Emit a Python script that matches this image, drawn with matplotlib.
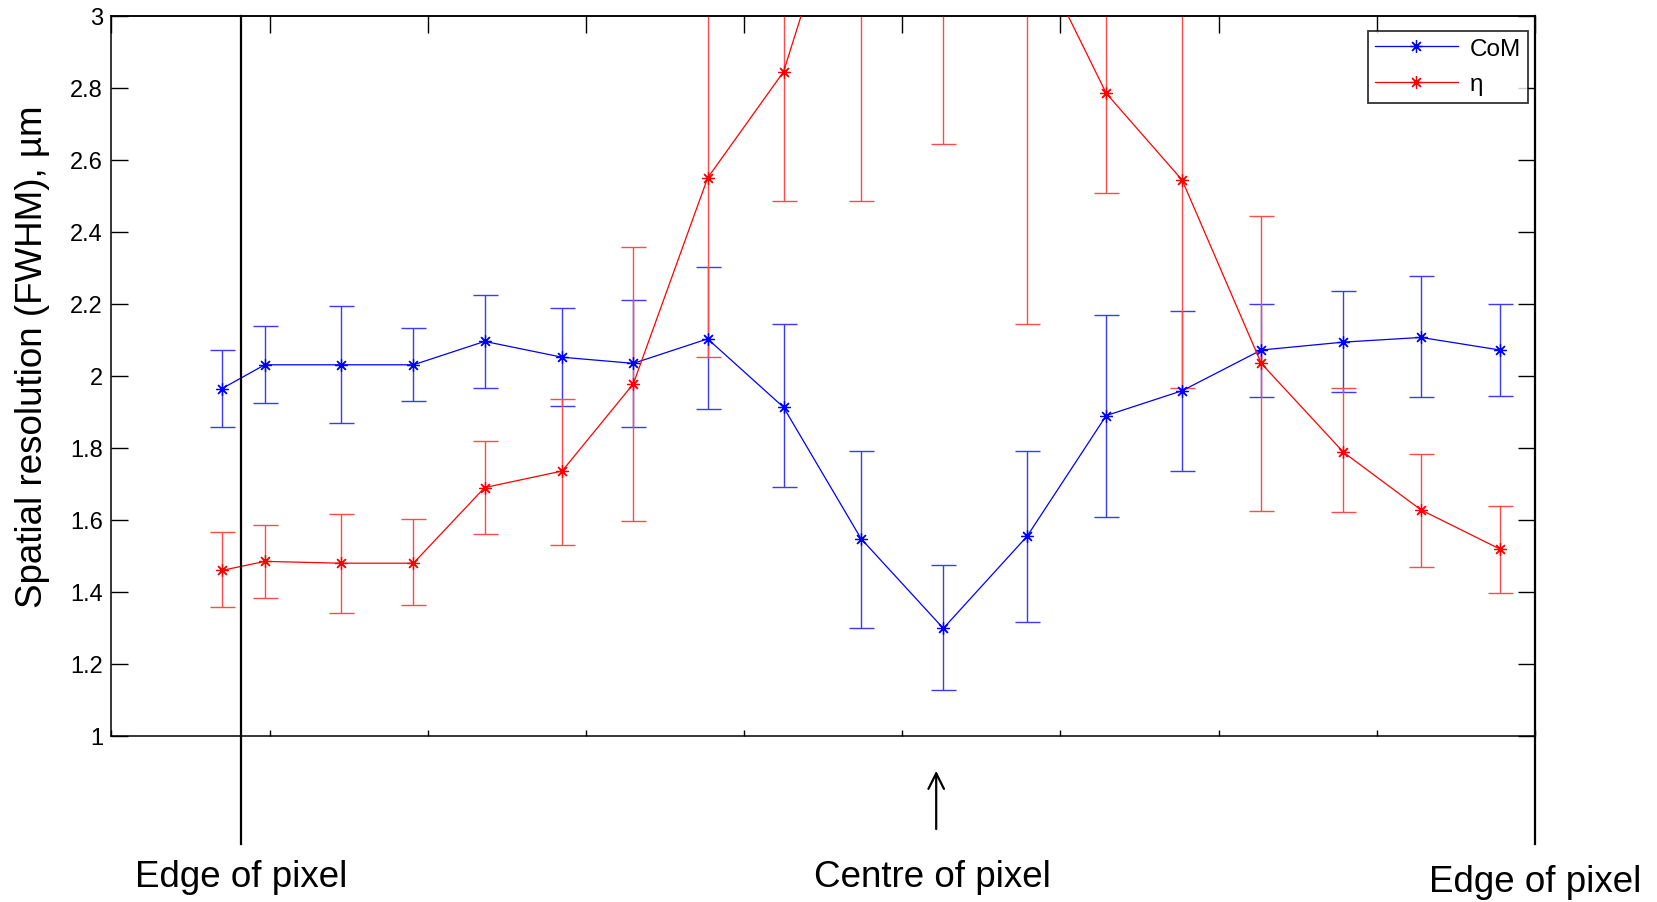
import numpy as np
import matplotlib
matplotlib.use('Agg')
import matplotlib.pyplot as plt
from matplotlib.ticker import FormatStrFormatter, MultipleLocator

plt.rcParams['font.family'] = ['Liberation Sans', 'DejaVu Sans']

# x position across the pixel (axis units)
x_pos = [0.70, 0.97, 1.45, 1.91, 2.36, 2.85, 3.30, 3.77, 4.25,
         4.74, 5.26, 5.79, 6.29, 6.77, 7.27, 7.79, 8.28, 8.78]

# CoM: value, lower and upper end of error bar
com_val = [1.964, 2.030, 2.030, 2.030, 2.095, 2.051, 2.034, 2.102, 1.912,
           1.547, 1.298, 1.554, 1.889, 1.958, 2.071, 2.093, 2.106, 2.071]
com_lo = [1.858, 1.924, 1.868, 1.930, 1.965, 1.915, 1.857, 1.908, 1.690,
          1.300, 1.126, 1.315, 1.607, 1.735, 1.940, 1.954, 1.940, 1.944]
com_hi = [2.071, 2.137, 2.193, 2.132, 2.223, 2.189, 2.209, 2.302, 2.143,
          1.791, 1.473, 1.791, 2.169, 2.179, 2.200, 2.235, 2.276, 2.200]

# eta
eta_val = [1.459, 1.484, 1.479, 1.479, 1.689, 1.735, 1.977, 2.549, 2.844,
           3.53, 3.70, 3.23, 2.784, 2.543, 2.034, 1.787, 1.627, 1.518]
eta_lo = [1.357, 1.382, 1.341, 1.362, 1.561, 1.530, 1.597, 2.051, 2.484,
          2.484, 2.643, 2.143, 2.506, 1.965, 1.623, 1.622, 1.469, 1.396]
eta_hi = [1.565, 1.586, 1.617, 1.601, 1.817, 1.935, 2.357, 3.05, 3.20,
          4.60, 4.80, 4.30, 3.06, 3.12, 2.444, 1.965, 1.781, 1.637]

y_ticks = [1, 1.2, 1.4, 1.6, 1.8, 2, 2.2, 2.4, 2.6, 2.8, 3]

edge_left = 0.82
edge_right = 9.0
centre = 5.215

fig = plt.figure(figsize=(16.57, 9.03), dpi=100)
ax = fig.add_axes([0.0672, 0.1842, 0.8591, 0.7975])

ast = (8, 2, 0)

def draw(xv, val, lo, hi, col, ecol, lab):
    val = np.array(val)
    yerr = [val - np.array(lo), np.array(hi) - val]
    ax.errorbar(xv, val, yerr=yerr, fmt='none', ecolor=ecol, elinewidth=1.0,
                capsize=9, capthick=1.0, zorder=2)
    ax.plot(xv, val, color=col, lw=0.9, marker=ast, ms=9, mew=0.9,
            label=lab, zorder=3)

draw(x_pos, com_val, com_lo, com_hi, '#0000ff', '#3a3aff', 'CoM')
draw(x_pos, eta_val, eta_lo, eta_hi, '#ff0000', '#ff4a4a', 'η')

ax.set_xlim(0, 9)
ax.set_ylim(1, 3)
ax.set_yticks(y_ticks)
ax.yaxis.set_major_formatter(FormatStrFormatter('%g'))
ax.xaxis.set_major_locator(MultipleLocator(1))
ax.set_xticklabels([])
ax.tick_params(axis='y', direction='in', length=12, width=1, labelsize=17,
               left=True, right=True, pad=6)
ax.tick_params(axis='x', direction='in', length=4, width=1, top=False)
top = ax.secondary_xaxis('top')
top.set_xticks(np.arange(0, 10, 1))
top.set_xticklabels([])
top.tick_params(direction='in', length=12, width=1)
for s in ax.spines.values():
    s.set_linewidth(1.1)
top.spines['top'].set_linewidth(1.1)

ax.set_ylabel('Spatial resolution (FWHM), µm', fontsize=26.5)
ax.yaxis.set_label_coords(-0.043, 0.527)

leg = ax.legend(loc='upper right', bbox_to_anchor=(0.9955, 0.979), fontsize=17.5,
                frameon=True, fancybox=False, edgecolor='black', borderaxespad=0,
                handlelength=3.4, handletextpad=0.5, borderpad=0.3,
                labelspacing=0.55)
leg.get_frame().set_linewidth(1.3)

# pixel annotations below the axes
y_bot = 0.698
for xe in [edge_left, edge_right]:
    ax.plot([xe, xe], [3, y_bot], color='black', lw=1.6, clip_on=False, zorder=4)
ax.annotate('', xy=(centre, 0.91), xytext=(centre, 0.733),
            arrowprops=dict(arrowstyle='->', lw=1.6, color='black',
                            mutation_scale=28),
            annotation_clip=False)
ax.text(edge_left, 0.61, 'Edge of pixel', fontsize=26.5, ha='center', va='center')
ax.text(5.19, 0.61, 'Centre of pixel', fontsize=26.5, ha='center', va='center')
ax.text(edge_right, 0.596, 'Edge of pixel', fontsize=26.5, ha='center', va='center',
        clip_on=False)

fig.savefig('out.png', dpi=100)
